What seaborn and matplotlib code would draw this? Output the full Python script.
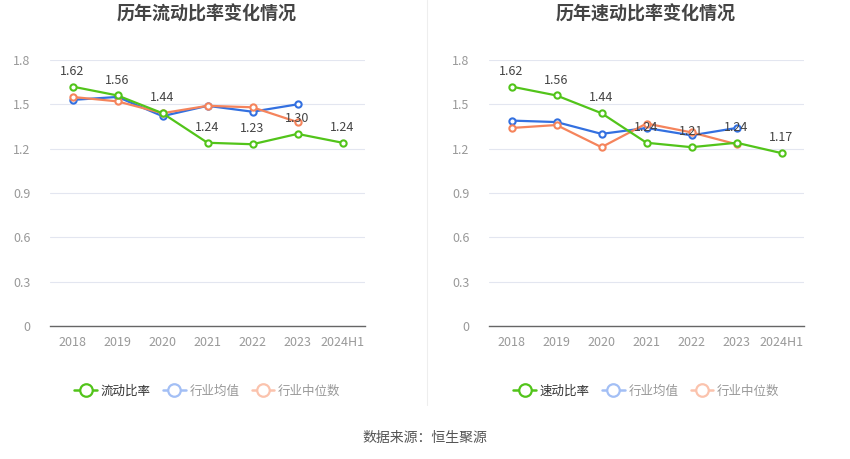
import pandas as pd
import numpy as np
import matplotlib
matplotlib.use("Agg")
import matplotlib.pyplot as plt
import seaborn as sns
from matplotlib.lines import Line2D

# data
years = ["2018", "2019", "2020", "2021", "2022", "2023", "2024H1"]

current_ratio = [1.62, 1.56, 1.44, 1.24, 1.23, 1.30, 1.24]
current_ind_mean = [1.53, 1.55, 1.42, 1.49, 1.45, 1.50, np.nan]
current_ind_median = [1.55, 1.52, 1.44, 1.49, 1.48, 1.38, np.nan]

quick_ratio = [1.62, 1.56, 1.44, 1.24, 1.21, 1.24, 1.17]
quick_ind_mean = [1.39, 1.38, 1.30, 1.34, 1.29, 1.34, np.nan]
quick_ind_median = [1.34, 1.36, 1.21, 1.37, 1.31, 1.23, np.nan]

yticks = [0, 0.3, 0.6, 0.9, 1.2, 1.5, 1.8]
ytick_labels = ["0", "0.3", "0.6", "0.9", "1.2", "1.5", "1.8"]

GREEN = "#52c41a"
BLUE = "#3370e0"
ORANGE = "#f5845c"

sns.set_style("white")
plt.rcParams["font.family"] = ["Noto Sans CJK SC", "DejaVu Sans"]

fig = plt.figure(figsize=(8.5, 4.59), dpi=100)
ax1 = fig.add_axes([50 / 850, 133 / 459, 315 / 850, 266 / 459])
ax2 = fig.add_axes([489 / 850, 133 / 459, 315 / 850, 266 / 459])


def draw_panel(ax, main, mean, median, main_name):
    df = pd.DataFrame({"year": years, "main": main, "mean": mean, "median": median})
    for col, color in [("mean", BLUE), ("median", ORANGE), ("main", GREEN)]:
        sub = df.dropna(subset=[col])
        sns.lineplot(data=sub, x="year", y=col, ax=ax, color=color, lw=1.6,
                     marker="o", markersize=4.5, markerfacecolor="white",
                     markeredgecolor=color, markeredgewidth=1.5, sort=False)
    for i, v in enumerate(main):
        ax.text(i, v + 0.06, f"{v:.2f}", ha="center", va="bottom",
                fontsize=9, color="#444444")

    ax.set_xlim(-0.5, 6.5)
    ax.set_ylim(0, 1.8)
    ax.set_yticks(yticks)
    ax.set_yticklabels(ytick_labels)
    ax.set_xticks(range(len(years)))
    ax.set_xticklabels(years)
    ax.set_xlabel("")
    ax.set_ylabel("")
    ax.grid(axis="y", color="#e3e6f0", lw=0.8)
    ax.set_axisbelow(True)
    for s in ["left", "right", "top"]:
        ax.spines[s].set_visible(False)
    ax.spines["bottom"].set_color("#666666")
    ax.spines["bottom"].set_linewidth(1)
    ax.tick_params(axis="y", length=0, labelsize=9, labelcolor="#999999", pad=14)
    ax.tick_params(axis="x", length=4, color="#666666", labelsize=9,
                   labelcolor="#999999", pad=3)

    handles = [
        Line2D([0], [0], color=GREEN, lw=1.8, marker="o", markersize=9,
               markerfacecolor="white", markeredgewidth=1.6),
        Line2D([0], [0], color="#a3bff5", lw=1.8, marker="o", markersize=9,
               markerfacecolor="white", markeredgewidth=1.6),
        Line2D([0], [0], color="#fbc3ad", lw=1.8, marker="o", markersize=9,
               markerfacecolor="white", markeredgewidth=1.6),
    ]
    leg = ax.legend(handles, [main_name, "行业均值", "行业中位数"],
                    loc="center", bbox_to_anchor=(0.5, -0.245), ncol=3,
                    frameon=False, fontsize=9, handlelength=1.8,
                    columnspacing=1.0, handletextpad=0.3)
    for t, c in zip(leg.get_texts(), ["#333333", "#999999", "#999999"]):
        t.set_color(c)


draw_panel(ax1, current_ratio, current_ind_mean, current_ind_median, "流动比率")
draw_panel(ax2, quick_ratio, quick_ind_mean, quick_ind_median, "速动比率")

# titles near the top of the figure
fig.text(207 / 850, 1 - 14 / 459, "历年流动比率变化情况", ha="center", va="center",
         fontsize=13, fontweight="bold", color="#444444")
fig.text(646 / 850, 1 - 14 / 459, "历年速动比率变化情况", ha="center", va="center",
         fontsize=13, fontweight="bold", color="#444444")

# divider and source
fig.add_artist(Line2D([427 / 850, 427 / 850], [1 - 405 / 459, 1.0],
                      color="#eeeeee", lw=0.8))
fig.text(0.5, 1 - 438 / 459, "数据来源：恒生聚源", ha="center", va="center",
         fontsize=10, color="#555555")

fig.savefig("out.png", dpi=100)
